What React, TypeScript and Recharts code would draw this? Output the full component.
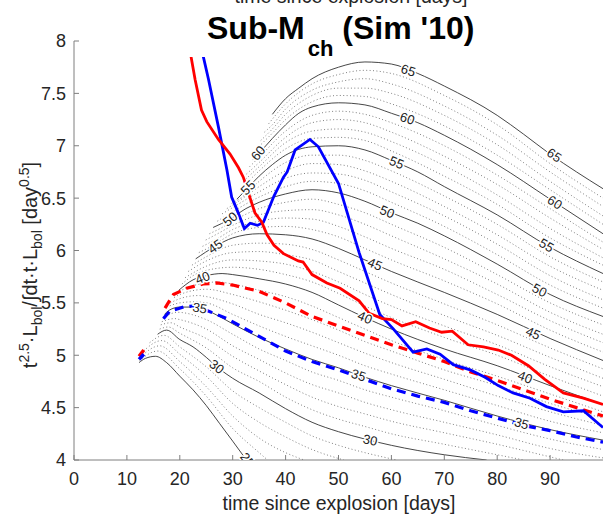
import { ComposedChart, Line, Scatter, XAxis, YAxis } from "recharts";

type Pt = [number, number];

const X_TICKS = [0, 10, 20, 30, 40, 50, 60, 70, 80, 90];
const Y_TICKS = [4, 4.5, 5, 5.5, 6, 6.5, 7, 7.5, 8];

// solid contour levels
const C25: Pt[] = [[12.3, 4.93], [13.5, 4.97], [15.4, 4.99], [17.5, 4.93], [20, 4.8], [22.5, 4.67], [25, 4.52], [27.5, 4.35], [30, 4.18], [32.6, 4.0]];
const C30: Pt[] = [[15.8, 5.2], [17.5, 5.24], [20, 5.15], [22.5, 5.08], [25, 4.98], [27.5, 4.87], [30, 4.78], [35, 4.64], [40, 4.49], [45, 4.36], [50, 4.27], [55, 4.2], [60, 4.14], [70, 4.05], [78, 4.0]];
const C35: Pt[] = [[17.1, 5.39], [18, 5.43], [20, 5.46], [22.5, 5.46], [25, 5.43], [27.5, 5.37], [30, 5.3], [35, 5.17], [40, 5.06], [45, 4.96], [50, 4.88], [55, 4.79], [60, 4.71], [70, 4.57], [80, 4.42], [90, 4.29], [100, 4.19]];
const C40: Pt[] = [[19.8, 5.62], [22.5, 5.72], [25, 5.76], [28, 5.78], [30, 5.77], [35, 5.73], [40, 5.68], [45, 5.6], [50, 5.48], [55, 5.36], [60, 5.25], [70, 5.06], [80, 4.9], [90, 4.71], [100, 4.53]];
const C45: Pt[] = [[23, 5.92], [26.7, 6.04], [30, 6.12], [35, 6.16], [40, 6.15], [45, 6.11], [50, 6.02], [55, 5.91], [60, 5.8], [70, 5.6], [80, 5.39], [90, 5.16], [100, 4.95]];
const C50: Pt[] = [[26.3, 6.22], [29.5, 6.3], [32.5, 6.4], [35, 6.46], [40, 6.54], [45, 6.58], [50, 6.55], [55, 6.47], [60, 6.36], [65, 6.26], [70, 6.14], [80, 5.87], [90, 5.58], [100, 5.37]];
const C55: Pt[] = [[30.8, 6.49], [32.5, 6.58], [35, 6.71], [37.5, 6.82], [40, 6.91], [45, 6.99], [50, 7.0], [55, 6.96], [60, 6.86], [65, 6.75], [70, 6.61], [80, 6.34], [90, 6.03], [100, 5.78]];
const C60: Pt[] = [[33.8, 6.87], [35, 6.93], [37.5, 7.07], [40, 7.2], [42.5, 7.31], [45, 7.37], [50, 7.41], [55, 7.39], [60, 7.31], [65, 7.22], [70, 7.1], [80, 6.82], [90, 6.49], [100, 6.16]];
const C65: Pt[] = [[37.5, 7.3], [40, 7.45], [42.5, 7.55], [45, 7.64], [50, 7.75], [55, 7.8], [60, 7.78], [65, 7.69], [70, 7.57], [80, 7.29], [85, 7.11], [90, 6.92], [95, 6.75], [100, 6.59]];

// dotted levels in between (every 1)
const DOTTED_25: Pt[][] = [
  [[12.4, 4.95], [15.8, 5.04], [20, 4.87], [25, 4.61], [30, 4.3], [35, 4.07], [36.6, 4.0]],
  [[12.5, 4.98], [16.2, 5.09], [20, 4.94], [25, 4.7], [30, 4.42], [35, 4.21], [40, 4.07], [43.5, 4.0]],
  [[12.7, 5.02], [16.6, 5.14], [20, 5.01], [25, 4.8], [30, 4.54], [35, 4.36], [40, 4.22], [45, 4.1], [51, 4.0]],
  [[14.3, 5.12], [17, 5.19], [20, 5.08], [25, 4.89], [30, 4.66], [35, 4.5], [40, 4.36], [45, 4.23], [50, 4.14], [55, 4.07], [61, 4.0]],
];
const DOTTED_30: Pt[][] = [
  [[16.2, 5.25], [17.8, 5.27], [20, 5.21], [25, 5.07], [30, 4.88], [35, 4.75], [40, 4.6], [45, 4.48], [50, 4.39], [55, 4.32], [60, 4.25], [70, 4.15], [80, 4.05], [85, 4.0]],
  [[16.4, 5.29], [18.3, 5.31], [20, 5.27], [25, 5.16], [30, 4.99], [35, 4.85], [40, 4.72], [45, 4.6], [50, 4.51], [55, 4.44], [60, 4.37], [70, 4.26], [80, 4.15], [90, 4.03], [92.5, 4.0]],
  [[16.6, 5.32], [19, 5.35], [20, 5.34], [25, 5.25], [30, 5.09], [35, 4.96], [40, 4.83], [45, 4.72], [50, 4.64], [55, 4.55], [60, 4.48], [70, 4.36], [80, 4.24], [90, 4.11], [100, 4.02]],
  [[16.8, 5.35], [19.5, 5.41], [25, 5.34], [30, 5.2], [35, 5.06], [40, 4.95], [45, 4.84], [50, 4.76], [55, 4.67], [60, 4.6], [70, 4.47], [80, 4.33], [90, 4.2], [100, 4.1]],
];
const DOTTED_35: Pt[][] = [
  [[17.5, 5.46], [20, 5.5], [22.5, 5.51], [25, 5.5], [30, 5.39], [35, 5.28], [40, 5.18], [45, 5.09], [50, 5.0], [55, 4.9], [60, 4.82], [70, 4.67], [80, 4.52], [90, 4.37], [100, 4.26]],
  [[18.2, 5.5], [20, 5.54], [23.5, 5.57], [25, 5.56], [30, 5.49], [35, 5.39], [40, 5.31], [45, 5.22], [50, 5.12], [55, 5.02], [60, 4.93], [70, 4.77], [80, 4.61], [90, 4.46], [100, 4.33]],
  [[18.9, 5.55], [20, 5.58], [25, 5.63], [30, 5.58], [35, 5.51], [40, 5.43], [45, 5.34], [50, 5.24], [55, 5.13], [60, 5.04], [70, 4.86], [80, 4.71], [90, 4.54], [100, 4.4]],
  [[19.4, 5.59], [20, 5.61], [25, 5.69], [27, 5.7], [30, 5.68], [35, 5.62], [40, 5.56], [45, 5.47], [50, 5.36], [55, 5.25], [60, 5.14], [70, 4.96], [80, 4.8], [90, 4.63], [100, 4.46]],
];
const DOTTED_40: Pt[][] = [
  [[20.4, 5.68], [22.5, 5.76], [25, 5.81], [30, 5.84], [35, 5.82], [40, 5.77], [45, 5.7], [50, 5.59], [55, 5.47], [60, 5.36], [70, 5.17], [80, 5.0], [90, 4.8], [100, 4.61]],
  [[21, 5.74], [25, 5.85], [30, 5.91], [35, 5.9], [40, 5.87], [45, 5.8], [50, 5.7], [55, 5.58], [60, 5.47], [70, 5.28], [80, 5.1], [90, 4.89], [100, 4.7]],
  [[21.6, 5.8], [25, 5.9], [30, 5.98], [35, 5.99], [40, 5.96], [45, 5.91], [50, 5.8], [55, 5.69], [60, 5.58], [70, 5.38], [80, 5.19], [90, 4.98], [100, 4.78]],
  [[22.3, 5.86], [25, 5.94], [30, 6.05], [35, 6.07], [40, 6.06], [45, 6.01], [50, 5.91], [55, 5.8], [60, 5.69], [70, 5.49], [80, 5.29], [90, 5.07], [100, 4.87]],
];
const DOTTED_45: Pt[][] = [
  [[23.6, 5.98], [26, 6.04], [30, 6.16], [35, 6.22], [40, 6.23], [45, 6.2], [50, 6.13], [55, 6.02], [60, 5.91], [70, 5.71], [80, 5.49], [90, 5.24], [100, 5.03]],
  [[24.3, 6.04], [27, 6.11], [30, 6.2], [35, 6.28], [40, 6.31], [45, 6.3], [50, 6.23], [55, 6.13], [60, 6.02], [70, 5.82], [80, 5.58], [90, 5.33], [100, 5.12]],
  [[24.9, 6.1], [27.5, 6.17], [30, 6.24], [35, 6.34], [40, 6.38], [45, 6.39], [50, 6.34], [55, 6.25], [60, 6.14], [70, 5.92], [80, 5.68], [90, 5.41], [100, 5.2]],
  [[25.6, 6.16], [28, 6.22], [30, 6.28], [35, 6.4], [40, 6.46], [45, 6.49], [50, 6.44], [55, 6.36], [60, 6.25], [70, 6.03], [80, 5.77], [90, 5.5], [100, 5.29]],
];
const DOTTED_50: Pt[][] = [
  [[27.1, 6.28], [30, 6.37], [35, 6.51], [40, 6.61], [45, 6.66], [50, 6.64], [55, 6.57], [60, 6.46], [70, 6.23], [80, 5.96], [90, 5.67], [100, 5.45]],
  [[28, 6.35], [30, 6.41], [35, 6.56], [40, 6.69], [45, 6.74], [50, 6.73], [55, 6.67], [60, 6.56], [70, 6.33], [80, 6.06], [90, 5.76], [100, 5.53]],
  [[28.9, 6.4], [30.5, 6.45], [35, 6.61], [40, 6.76], [45, 6.83], [50, 6.82], [55, 6.76], [60, 6.66], [70, 6.42], [80, 6.15], [90, 5.85], [100, 5.62]],
  [[29.8, 6.45], [31.5, 6.5], [35, 6.66], [40, 6.84], [45, 6.91], [50, 6.91], [55, 6.86], [60, 6.76], [70, 6.52], [80, 6.25], [90, 5.94], [100, 5.7]],
];
const DOTTED_55: Pt[][] = [
  [[31.4, 6.58], [35, 6.76], [40, 6.97], [45, 7.07], [50, 7.08], [55, 7.05], [60, 6.95], [70, 6.71], [80, 6.44], [90, 6.12], [100, 5.86]],
  [[32, 6.66], [35, 6.8], [40, 7.03], [45, 7.14], [50, 7.16], [55, 7.13], [60, 7.04], [70, 6.81], [80, 6.53], [90, 6.21], [100, 5.93]],
  [[32.6, 6.73], [35, 6.84], [40, 7.08], [45, 7.22], [50, 7.25], [55, 7.22], [60, 7.13], [70, 6.9], [80, 6.63], [90, 6.31], [100, 6.01]],
  [[33.2, 6.8], [35, 6.89], [40, 7.14], [45, 7.29], [50, 7.33], [55, 7.3], [60, 7.22], [70, 7.0], [80, 6.72], [90, 6.4], [100, 6.08]],
];
const DOTTED_60: Pt[][] = [
  [[34.5, 6.97], [37.5, 7.12], [40, 7.25], [45, 7.42], [50, 7.48], [55, 7.47], [60, 7.4], [70, 7.19], [80, 6.91], [90, 6.58], [100, 6.25]],
  [[35.3, 7.05], [37.5, 7.16], [40, 7.3], [45, 7.48], [50, 7.55], [55, 7.55], [60, 7.5], [70, 7.29], [80, 7.01], [90, 6.66], [100, 6.33]],
  [[36, 7.13], [37.5, 7.2], [40, 7.35], [45, 7.53], [50, 7.61], [55, 7.64], [60, 7.59], [70, 7.38], [80, 7.1], [90, 6.75], [100, 6.42]],
  [[36.8, 7.21], [40, 7.4], [45, 7.59], [50, 7.68], [55, 7.72], [60, 7.69], [70, 7.48], [80, 7.2], [90, 6.83], [100, 6.5]],
];

// contour labels: position, text, rotation (deg)
const LABELS = [
  { x: 32.8, y: 4.0, t: "25", a: 52 },
  { x: 27, y: 4.89, t: "30", a: 38 },
  { x: 56, y: 4.19, t: "30", a: 12 },
  { x: 23.8, y: 5.45, t: "35", a: 10 },
  { x: 53.8, y: 4.81, t: "35", a: 18 },
  { x: 84.6, y: 4.35, t: "35", a: 15 },
  { x: 24.3, y: 5.74, t: "40", a: -22 },
  { x: 55, y: 5.36, t: "40", a: 23 },
  { x: 85.3, y: 4.79, t: "40", a: 21 },
  { x: 26.7, y: 6.04, t: "45", a: -35 },
  { x: 56.9, y: 5.87, t: "45", a: 23 },
  { x: 86.8, y: 5.21, t: "45", a: 24 },
  { x: 29.5, y: 6.3, t: "50", a: -40 },
  { x: 59.2, y: 6.37, t: "50", a: 22 },
  { x: 88, y: 5.62, t: "50", a: 28 },
  { x: 32.9, y: 6.6, t: "55", a: -45 },
  { x: 61, y: 6.84, t: "55", a: 22 },
  { x: 89.3, y: 6.05, t: "55", a: 30 },
  { x: 34.8, y: 6.93, t: "60", a: -50 },
  { x: 63, y: 7.26, t: "60", a: 18 },
  { x: 90.9, y: 6.46, t: "60", a: 32 },
  { x: 63.2, y: 7.72, t: "65", a: 17 },
  { x: 90.8, y: 6.91, t: "65", a: 34 },
];

// measured curves
const RED: Pt[] = [[21.6, 8.0], [22.9, 7.63], [24.1, 7.34], [25.1, 7.23], [27.3, 7.06], [29.5, 6.92], [31.1, 6.79], [32.0, 6.7], [34.2, 6.36], [35.5, 6.27], [36.5, 6.15], [37.8, 6.05], [39.6, 5.97], [42.4, 5.9], [43.3, 5.89], [45.0, 5.77], [47.8, 5.69], [50.3, 5.64], [53.9, 5.52], [55.8, 5.4], [58.3, 5.35], [60.0, 5.34], [62.0, 5.28], [64.6, 5.32], [67.2, 5.26], [69.5, 5.22], [71.5, 5.23], [74.5, 5.1], [77.4, 5.08], [80.2, 5.05], [82.7, 5.0], [85.9, 4.9], [89.0, 4.77], [92.5, 4.64], [96.3, 4.59], [100, 4.53]];
const BLUE: Pt[] = [[24.4, 7.86], [25.4, 7.64], [27.3, 7.18], [28.9, 6.77], [29.8, 6.51], [30.8, 6.39], [32.2, 6.21], [33.3, 6.26], [34.7, 6.24], [35.8, 6.27], [37.8, 6.52], [39.6, 6.7], [40.3, 6.75], [41.8, 6.96], [44.6, 7.06], [46.2, 6.99], [50.0, 6.64], [53.9, 5.98], [57.8, 5.39], [60.4, 5.25], [64.1, 5.03], [66.7, 5.06], [69.2, 5.01], [71.7, 4.91], [74.9, 4.86], [77.7, 4.79], [80.2, 4.71], [83.0, 4.64], [86.2, 4.59], [89.3, 4.51], [92.5, 4.46], [96.3, 4.47], [100, 4.31]];
const RED_DASH: Pt[] = [[17.2, 5.45], [18.8, 5.58], [21.3, 5.64], [24.4, 5.68], [27, 5.69], [30, 5.67], [35, 5.61], [40, 5.5], [45, 5.37], [50, 5.28], [55, 5.19], [60, 5.1], [65, 5.02], [70, 4.94], [75, 4.84], [80, 4.76], [85, 4.67], [90, 4.58], [95, 4.5], [100, 4.42]];
const BLUE_DASH: Pt[] = [[16.9, 5.35], [18.1, 5.42], [20.7, 5.46], [22.6, 5.47], [25, 5.43], [28.9, 5.35], [35, 5.18], [40, 5.04], [45, 4.94], [50, 4.86], [55, 4.77], [60, 4.68], [65, 4.61], [70, 4.55], [75, 4.47], [80, 4.4], [85, 4.33], [90, 4.28], [95, 4.22], [100, 4.17]];
const RED_START: Pt[] = [[12.3, 4.99], [13.2, 5.05]];
const BLUE_START: Pt[] = [[12.3, 4.96], [13.2, 5.01]];

const SOLID: Pt[][] = [C25, C30, C35, C40, C45, C50, C55, C60, C65];
const DOTTED: Pt[][] = [...DOTTED_25, ...DOTTED_30, ...DOTTED_35, ...DOTTED_40, ...DOTTED_45, ...DOTTED_50, ...DOTTED_55, ...DOTTED_60];

const rows = (pts: Pt[]) => pts.map(([x, y]) => ({ x, y }));

const AXIS = "#7f7f7f";
const TXT = "#262626";

function series(key: string, pts: Pt[], stroke: string, width: number, dash?: string, curve: "linear" | "monotone" = "linear") {
  return (
    <Line
      key={key}
      data={rows(pts)}
      dataKey="y"
      type={curve}
      stroke={stroke}
      strokeWidth={width}
      strokeDasharray={dash}
      dot={false}
      activeDot={false}
      legendType="none"
      isAnimationActive={false}
    />
  );
}

const LabelShape = (props: any) => {
  const { cx, cy, payload } = props;
  if (cx == null || cy == null) return null;
  return (
    <text
      x={cx}
      y={cy}
      transform={`rotate(${payload.a} ${cx} ${cy})`}
      textAnchor="middle"
      dominantBaseline="central"
      fontSize={13}
      fill="#222"
      stroke="#fff"
      strokeWidth={3}
      paintOrder="stroke"
    >
      {payload.t}
    </text>
  );
};

export default function App() {
  return (
    <div
      style={{
        position: "absolute",
        left: 0,
        top: 0,
        width: 604,
        height: 518,
        background: "#fff",
        fontFamily: "'Liberation Sans', Arial, Helvetica, sans-serif",
      }}
    >
      <ComposedChart width={604} height={518} margin={{ top: 41, right: 1, bottom: 0, left: 0 }}>
        <XAxis
          dataKey="x"
          type="number"
          domain={[0, 100]}
          ticks={X_TICKS}
          interval={0}
          allowDataOverflow
          height={58}
          stroke={AXIS}
          tickSize={-5}
          tickMargin={17}
          tick={{ fill: TXT, fontSize: 18 }}
        />
        <XAxis xAxisId="top" orientation="top" type="number" domain={[0, 100]} ticks={X_TICKS} height={0} stroke={AXIS} tickSize={-5} tick={false} />
        <YAxis
          type="number"
          domain={[4, 8]}
          ticks={Y_TICKS}
          interval={0}
          allowDataOverflow
          width={74}
          stroke={AXIS}
          tickSize={-5}
          tickMargin={13}
          tick={{ fill: TXT, fontSize: 18 }}
          tickFormatter={(v: number) => String(v)}
        />
        <YAxis yAxisId="right" orientation="right" type="number" domain={[4, 8]} ticks={Y_TICKS} width={0} stroke={AXIS} tickSize={-5} tick={false} />

        {DOTTED.map((pts, i) => series(`d${i}`, pts, "#555", 0.75, "1 2.4", "monotone"))}
        {SOLID.map((pts, i) => series(`s${i}`, pts, "#262626", 0.85, undefined, "monotone"))}

        <Scatter data={LABELS} dataKey="y" shape={LabelShape} isAnimationActive={false} legendType="none" />

        {series("rs", RED_START, "#ff0000", 3.5)}
        {series("bs", BLUE_START, "#0000ff", 3.5)}
        {series("rd", RED_DASH, "#ff0000", 3.2, "9 6")}
        {series("bd", BLUE_DASH, "#0000ff", 3.2, "9 6")}
        {series("b", BLUE, "#0000ff", 2.8)}
        {series("r", RED, "#ff0000", 2.8)}
      </ComposedChart>

      <svg width={604} height={518} style={{ position: "absolute", left: 0, top: 0, pointerEvents: "none" }}>
        <text x={351} y={3} textAnchor="middle" fontSize={19.5} fill={TXT}>
          time since explosion [days]
        </text>
        <rect x={186} y={8} width={306} height={49} fill="#fff" />
        <text x={207} y={38.5} fontSize={32} fontWeight="bold" fill="#000">
          Sub-M
          <tspan fontSize={22} dx={3} dy={17.5}>ch</tspan>
          <tspan dy={-17.5}> (Sim '10)</tspan>
        </text>
        <text x={339} y={510} textAnchor="middle" fontSize={19.5} fill={TXT}>
          time since explosion [days]
        </text>
        <text transform="translate(37,265) rotate(-90)" textAnchor="middle" fontSize={20} fill={TXT}>
          t<tspan fontSize={14} dy={-8}>2.5</tspan>
          <tspan dy={8}>·L</tspan>
          <tspan fontSize={14} dy={5}>bol</tspan>
          <tspan dy={-5}>/∫dt·t·L</tspan>
          <tspan fontSize={14} dy={5}>bol</tspan>
          <tspan dy={-5}> [day</tspan>
          <tspan fontSize={14} dy={-8}>0.5</tspan>
          <tspan dy={8}>]</tspan>
        </text>
      </svg>
    </div>
  );
}
